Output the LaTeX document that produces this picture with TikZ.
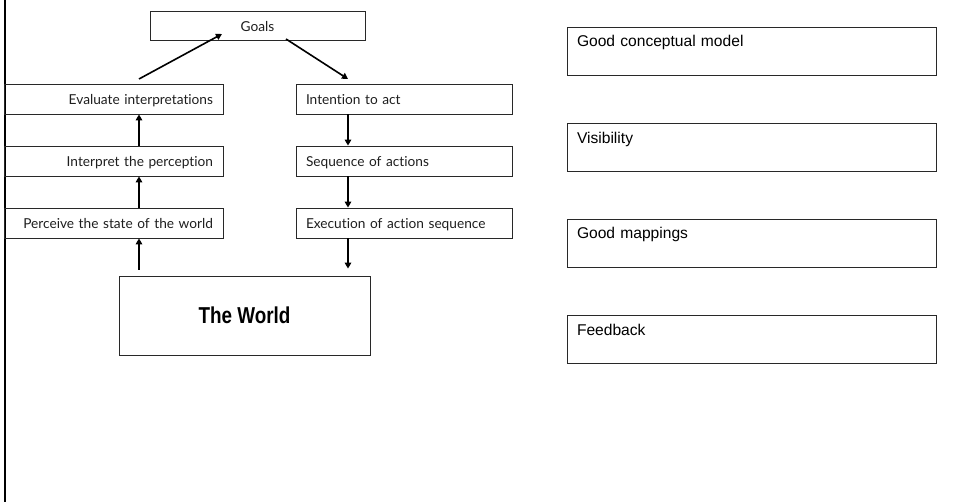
\documentclass[tikz,border=0pt]{standalone}
\usepackage{fontspec}
\usetikzlibrary{arrows.meta}
\setmainfont{Liberation Sans}
\newfontfamily\gillfont[Ligatures={NoCommon,NoRare}]{Lato}
\newfontfamily\worldfont[FakeStretch=0.82]{Liberation Sans}
\definecolor{BoxLine}{RGB}{40,40,40}
\definecolor{StageText}{RGB}{30,30,30}

\begin{document}
\begin{tikzpicture}[x=1pt, y=-1pt]
			\useasboundingbox (0,0) rectangle (954,502);
			\tikzstyle{every node}=[draw=BoxLine, line width=0.8pt, shape=rectangle, inner ysep=0pt, inner xsep=10pt];
			\tikzstyle{stage}=[font=\gillfont\fontsize{13.7}{15}\selectfont, text=StageText, text height=21pt, text depth=9pt];
			\tikzstyle{leftstage}=[stage, text width=199pt, align=right];
			\tikzstyle{rightstage}=[stage, text width=196pt, align=left];
			\tikzstyle{principle}=[font=\fontsize{15.6}{17}\selectfont, text width=349pt, align=left, text height=20pt, text depth=28pt];
			\tikzstyle{flow}=[line width=1.6pt, -{Triangle[length=6pt, width=6.5pt]}];
			% page edge
			\draw[line width=2pt] (4.5,0) -- (4.5,502);
			% the cycle
			\node (goals) [stage, minimum width=215pt, text height=21pt, text depth=8pt] at (257.5, 25.5) {Goals};
			\node (evaluate) [leftstage] at (113.5, 99) {Evaluate interpretations};
			\node (interpret) [leftstage] at (113.5, 161) {Interpret the perception};
			\node (perceive) [leftstage] at (113.5, 223) {Perceive the state of the world};
			\node (intention) [rightstage] at (404, 99) {Intention to act};
			\node (sequence) [rightstage] at (404, 161) {Sequence of actions};
			\node (execution) [rightstage] at (404, 223) {Execution of action sequence};
			\node (world) [font=\worldfont\bfseries\fontsize{23}{26}\selectfont, minimum width=251pt, text height=48pt, text depth=31pt] at (244.5, 315.5) {The World};
			\coordinate (lx) at (139, 0);
			\coordinate (rx) at (348, 0);
			\coordinate (evalOut) at (139, 79);
			\coordinate (goalsIn) at (222, 34);
			\coordinate (goalsOut) at (286, 39);
			\coordinate (intentIn) at (348, 79);
			\draw[flow, shorten <=6pt] (world.north -| lx) -- (perceive.south -| lx);
			\draw[flow] (perceive.north -| lx) -- (interpret.south -| lx);
			\draw[flow] (interpret.north -| lx) -- (evaluate.south -| lx);
			\draw[flow] (evalOut) -- (goalsIn);
			\draw[flow] (goalsOut) -- (intentIn);
			\draw[flow] (intention.south -| rx) -- (sequence.north -| rx);
			\draw[flow] (sequence.south -| rx) -- (execution.north -| rx);
			\draw[flow, shorten >=7pt] (execution.south -| rx) -- (world.north -| rx);
			% design principles
			\node (model) [principle] at (751.5, 51) {Good conceptual model};
			\node (visibility) [principle] at (751.5, 147.5) {Visibility};
			\node (mappings) [principle] at (751.5, 243) {Good mappings};
			\node (feedback) [principle] at (751.5, 339.5) {Feedback};
		\end{tikzpicture}
\end{document}
